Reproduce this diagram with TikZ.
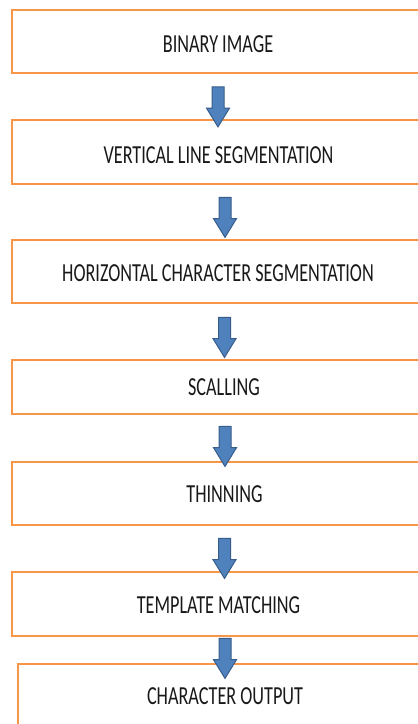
\documentclass[tikz,border=0pt]{standalone}
\usepackage{fontspec}
\newfontfamily\boxfont[FakeStretch=0.70]{Carlito}
\usetikzlibrary{shapes.arrows}
\definecolor{boxline}{HTML}{F79646}
\definecolor{arrowfill}{HTML}{4F81BD}
\definecolor{arrowline}{HTML}{385D8A}
\tikzset{
  stage/.style={draw=boxline, line width=2.6pt, fill=white, rectangle, inner sep=0pt},
  caption/.style={font=\boxfont\fontsize{26}{30}\selectfont, text=black!90, inner sep=0pt},
  flowarrow/.style={single arrow, rotate=-90, fill=arrowfill, draw=arrowline,
    line width=1pt, minimum height=40pt, minimum width=22pt,
    single arrow head extend=5.5pt, single arrow tip angle=63, inner sep=5.5pt}
}
\begin{document}
\begin{tikzpicture}[x=1pt, y=-1pt]
  \useasboundingbox (0,0) rectangle (418,724);
  \clip (0,0) rectangle (418,724);
  \fill[white] (0,0) rectangle (418,724);

  % process stages
  \node[stage, minimum width=412pt, minimum height=63pt] (s1) at (218,41.5) {};
  \node[stage, minimum width=412pt, minimum height=64pt] (s2) at (218,152) {};
  \node[stage, minimum width=412pt, minimum height=63pt] (s3) at (218,271.5) {};
  \node[stage, minimum width=412pt, minimum height=54pt] (s4) at (218,387) {};
  \node[stage, minimum width=412pt, minimum height=63pt] (s5) at (218,493.5) {};
  \node[stage, minimum width=412pt, minimum height=64pt] (s6) at (218,604) {};
  \node[stage, minimum width=414pt, minimum height=80pt] (s7) at (225,704) {};

  % stage captions
  \node[caption] (t1) at (218,44) {BINARY IMAGE};
  \node[caption] (t2) at (218.5,155) {VERTICAL LINE SEGMENTATION};
  \node[caption] (t3) at (218,273.5) {HORIZONTAL CHARACTER SEGMENTATION};
  \node[caption] (t4) at (224,387) {SCALLING};
  \node[caption] (t5) at (224.5,494) {THINNING};
  \node[caption] (t6) at (218.5,605) {TEMPLATE MATCHING};
  \node[caption] (t7) at (225,696.5) {CHARACTER OUTPUT};

  % block arrows between stages
  \node[flowarrow] (a1) at (218,102) {};
  \node[flowarrow] (a2) at (225,212.5) {};
  \node[flowarrow] (a3) at (224.5,332.5) {};
  \node[flowarrow] (a4) at (225,441.5) {};
  \node[flowarrow] (a5) at (224.5,553.5) {};
  \node[flowarrow] (a6) at (225,653.5) {};
\end{tikzpicture}
\end{document}
